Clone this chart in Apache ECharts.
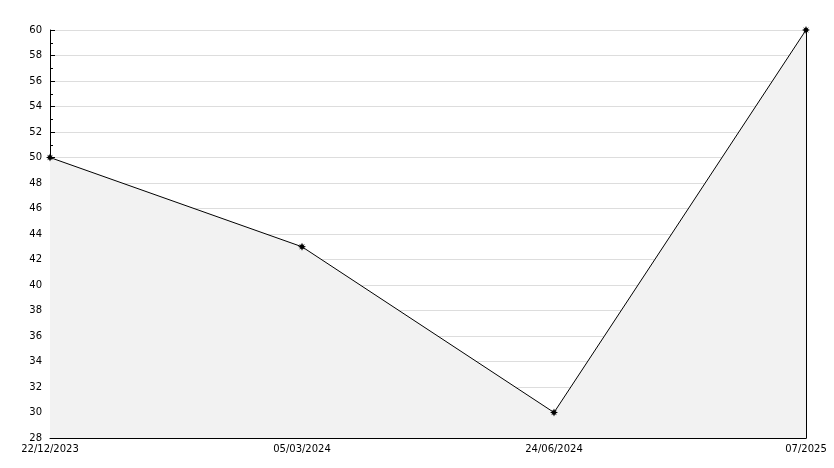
<!DOCTYPE html>
<html><head><meta charset="utf-8">
<script src="https://cdn.jsdelivr.net/npm/echarts@6/dist/echarts.min.js"></script>
<style>html,body{margin:0;padding:0;background:#fff}#c{width:834px;height:468px}</style>
</head><body><div id="c"></div>
<script>
var categories = ['22/12/2023', '05/03/2024', '24/06/2024', '07/2025'];
var values = [50, 43, 30, 60];
var yMin = 28, yMax = 60, yStep = 2;

var star = 'path://M0,-10L2.5,-4.2L7,-7L4.2,-2.5L10,0L4.2,2.5L7,7L2.5,4.2L0,10L-2.5,4.2L-7,7L-4.2,2.5L-10,0L-4.2,-2.5L-7,-7L-2.5,-4.2Z';
var chart = echarts.init(document.getElementById('c'), null, {renderer: 'canvas'});
var font = {color: '#000', fontSize: 10, fontFamily: 'DejaVu Sans'};
chart.setOption({
  animation: false,
  grid: {left: 50, right: 28, top: 30, bottom: 30},
  xAxis: {
    type: 'category', data: categories, boundaryGap: false,
    axisLine: {lineStyle: {color: '#000', width: 1}},
    axisTick: {inside: true, length: 5, alignWithLabel: true, lineStyle: {color: '#000'}},
    axisLabel: Object.assign({margin: 6, interval: 0}, font),
    splitLine: {show: false}
  },
  yAxis: [{
    type: 'value', min: yMin, max: yMax, interval: yStep,
    axisLine: {show: true, lineStyle: {color: '#000', width: 1}},
    axisTick: {show: true, inside: true, length: 5, lineStyle: {color: '#000'}},
    minorTick: {show: true, splitNumber: 2, length: 3, lineStyle: {color: '#000'}},
    axisLabel: Object.assign({margin: 8}, font),
    splitLine: {show: true, lineStyle: {color: '#dddddd', width: 1}}
  }, {
    type: 'value', min: yMin, max: yMax, interval: yStep, position: 'right',
    axisLine: {show: true, lineStyle: {color: '#000', width: 1}},
    axisTick: {show: false}, axisLabel: {show: false}, splitLine: {show: false}
  }],
  series: [{
    type: 'line', data: values, yAxisIndex: 0,
    lineStyle: {color: '#000', width: 1},
    itemStyle: {color: '#000'},
    symbol: star, symbolSize: 8,
    areaStyle: {color: '#f2f2f2', opacity: 1, origin: 'start'}
  }]
});
</script></body></html>
